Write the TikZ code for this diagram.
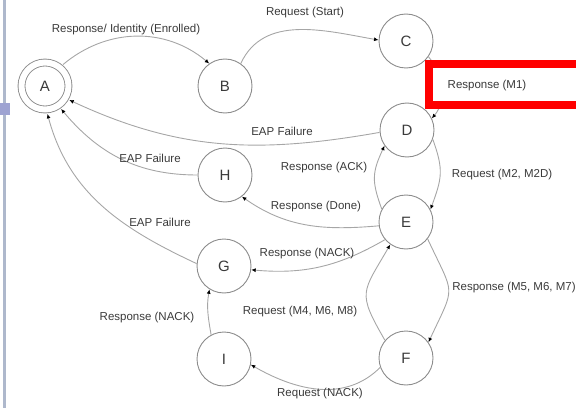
\documentclass[tikz,border=0pt]{standalone}
\usepackage{fontspec}
\setmainfont{Liberation Sans}
\usetikzlibrary{arrows.meta}
\definecolor{circ}{HTML}{8C8C8C}
\definecolor{edgec}{HTML}{A6A6A6}
\definecolor{txt}{HTML}{3A3A3A}
\definecolor{barc}{HTML}{AEB8CC}
\definecolor{barsq}{HTML}{9EA3D2}
\begin{document}
\begin{tikzpicture}[x=1pt,y=1pt,
  state/.style={circle,draw=circ,line width=0.9pt,minimum size=54pt,inner sep=0pt,
    font=\fontsize{15}{15}\selectfont,text=txt},
  conn/.style={draw=edgec,line width=0.9pt,-{Latex[length=4.5pt,width=4pt,color=black]}},
  lbl/.style={font=\fontsize{11.5}{12}\selectfont,text=txt,inner sep=0pt}]
\useasboundingbox (0,0) rectangle (576,408);
\begin{scope}
\clip (0,0) rectangle (576,408);
% left bar
\fill[barc] (3,0) rectangle (5.5,408);
\fill[barsq] (0,293) rectangle (10,305);
% states
\node[state,double=white,double distance=6pt,minimum size=47pt,outer sep=4.5pt] (A) at (45,322) {A};
\node[state] (B) at (225,322) {B};
\node[state] (C) at (406,367) {C};
\node[state] (D) at (407,278) {D};
\node[state] (H) at (225,233) {H};
\node[state] (E) at (406,186) {E};
\node[state] (G) at (224,142) {G};
\node[state] (I) at (224,49) {I};
\node[state] (F) at (406,50) {F};
% connectors
\draw[conn] (A.50) to[out=40,in=140] (B.125);
\draw[conn] (B.55) to[out=65,in=170] (C.178);
\draw[conn] (C.-35) to[out=-50,in=50] (D.25);
\draw[conn] (D.185) to[out=190,in=-25] (A.-30);
\draw[conn] (D.-20) to[out=-70,in=70,looseness=1.2] (E.27);
\draw[conn] (E.152) to[out=110,in=-115,looseness=1.2] (D.-145);
\draw[conn] (H.180) to[out=180,in=-50] (A.-55);
\draw[conn] (E.188) to[out=185,in=-35] (H.-52);
\draw[conn] (G.175) to[out=155,in=-75] (A.-85);
\draw[conn] (E.-140) to[out=210,in=-5] (G.-8);
\draw[conn] (E.-38) to[out=-65,in=65,looseness=1.6] (F.35);
\draw[conn] (F.140) to[out=120,in=-120,looseness=1.5] (E.-125);
\draw[conn] (F.200) to[out=225,in=-30] (I.-12);
\draw[conn] (I.118) to[out=100,in=-100] (G.-122);
% red highlight box
\draw[red,line width=8pt,fill=white] (428.5,344) rectangle (600,303);
\end{scope}
% labels
\node[lbl] (l1) at (126,378) {Response/ Identity (Enrolled)};
\node[lbl] (l2) at (305,395) {Request (Start)};
\node[lbl] (l3) at (487,322) {Response (M1)};
\node[lbl] (l4) at (282,277) {EAP Failure};
\node[lbl] (l5) at (502,233) {Request (M2, M2D)};
\node[lbl] (l6) at (324,240) {Response (ACK)};
\node[lbl] (l7) at (150,250) {EAP Failure};
\node[lbl] (l8) at (316,201) {Response (Done)};
\node[lbl] (l9) at (160,186) {EAP Failure};
\node[lbl] (l10) at (307,154) {Response (NACK)};
\node[lbl] (l11) at (300,96) {Request (M4, M6, M8)};
\node[lbl] (l12) at (514,120) {Response (M5, M6, M7)};
\node[lbl] (l13) at (147,90) {Response (NACK)};
\node[lbl] (l14) at (320,14) {Request (NACK)};
\end{tikzpicture}
\end{document}
